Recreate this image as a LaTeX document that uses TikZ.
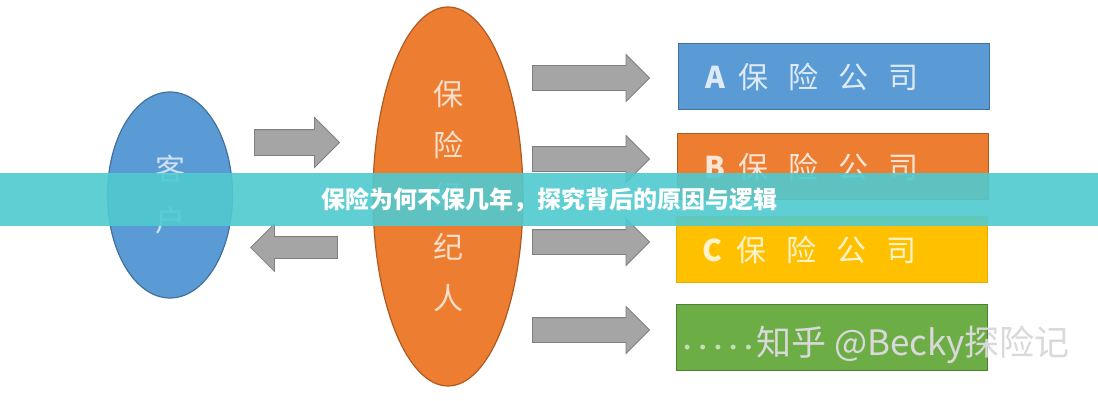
\documentclass[tikz,border=0pt]{standalone}
\usepackage{fontspec}
\newfontfamily\cjk{Noto Sans CJK SC}
\newfontfamily\dotfont{Liberation Sans}
\usetikzlibrary{shapes.geometric, shapes.arrows, positioning}
\definecolor{partyblue}{HTML}{5B9BD5}
\definecolor{edgeblue}{HTML}{41719C}
\definecolor{partyorange}{HTML}{ED7D31}
\definecolor{edgeorange}{HTML}{AE5A21}
\definecolor{partygold}{HTML}{FFC000}
\definecolor{partygreen}{HTML}{6CAD46}
\definecolor{edgegreen}{HTML}{507E32}
\definecolor{arrowgray}{HTML}{A5A5A5}
\definecolor{arrowedge}{HTML}{7F7F7F}
\definecolor{bannerteal}{HTML}{4FCAD0}
\tikzset{
    party/.style={draw, ellipse, line width=1.2pt, inner sep=0pt, align=center,
        font=\cjk\fontsize{30}{51}\selectfont},
    company/.style={draw, rectangle, line width=1pt, minimum width=311pt, minimum height=66pt,
        inner sep=0pt, text width=258pt, align=left, font=\cjk\fontsize{30}{36}\selectfont},
    % inner sep gives half the shaft, head extend the rest of the head
    flow/.style={single arrow, draw=arrowedge, fill=arrowgray, line width=0.8pt, inner sep=12pt,
        single arrow head extend=11pt, single arrow tip angle=90, anchor=tip},
    banner/.style={fill=bannerteal, fill opacity=0.9, text opacity=1, text=white,
        minimum width=1098pt, minimum height=53pt, inner sep=0pt,
        font=\cjk\bfseries\fontsize{24}{28}\selectfont},
}
\newcommand{\firm}[1]{{\bfseries #1}\hspace{14pt}保\hspace{20pt}险\hspace{20pt}公\hspace{20pt}司}
\newcommand{\dotrow}{•\hspace{9pt}•\hspace{9pt}•\hspace{9pt}•\hspace{9pt}•}

\begin{document}
\begin{tikzpicture}[x=1pt, y=1pt]
    \useasboundingbox[fill=white] (0,0) rectangle (1098,400);

    % the two parties
    \node[party, fill=partyblue, draw=edgeblue, text=partyblue!30!white,
        minimum width=125pt, minimum height=206pt] (client) at (170,205) {客\\户};
    \node[party, fill=partyorange, draw=edgeorange, text=partyorange!25!white,
        minimum width=150pt, minimum height=379pt] (broker) at (448,203.5) {保\\险\\经\\纪\\人};

    \node[flow, minimum height=85pt, inner sep=12.5pt, single arrow head extend=12pt] (toBroker) at (340,257.5) {};
    \node[flow, shape border rotate=180, minimum height=87pt, inner sep=10.5pt,
        single arrow head extend=13pt] (toClient) at (250,152.5) {};

    % insurance companies
    \node[company, fill=partyblue, draw=edgeblue, text=partyblue!20!white] (firmA) at (834,323.5) {\firm{A}};
    \node[company, fill=partyorange, draw=edgeorange, text=partyorange!20!white] (firmB) at (833,233.5) {\firm{B}};
    \node[company, fill=partygold, draw=partygold!90!black, text=partygold!20!white] (firmC) at (831.5,150.5) {\firm{C}};
    \node[company, fill=partygreen, draw=edgegreen] (firmD) at (832,62.5) {};

    \foreach \name/\y in {A/322, B/241, C/158, D/70}
        \node[flow, minimum height=117pt] (to\name) at (650,\y) {};

    \node[text=partygreen!40!white, font=\dotfont\fontsize{18}{20}\selectfont, anchor=west, inner sep=0pt]
        (dots) at (684,51) {\dotrow};
    \node[text=gray!30, font=\cjk\fontsize{35}{40}\selectfont, anchor=west, inner sep=0pt]
        (mark) at (756,55) {知乎 @Becky探险记};

    \node[banner] (title) at (549,200.5) {保险为何不保几年，探究背后的原因与逻辑};
\end{tikzpicture}
\end{document}
